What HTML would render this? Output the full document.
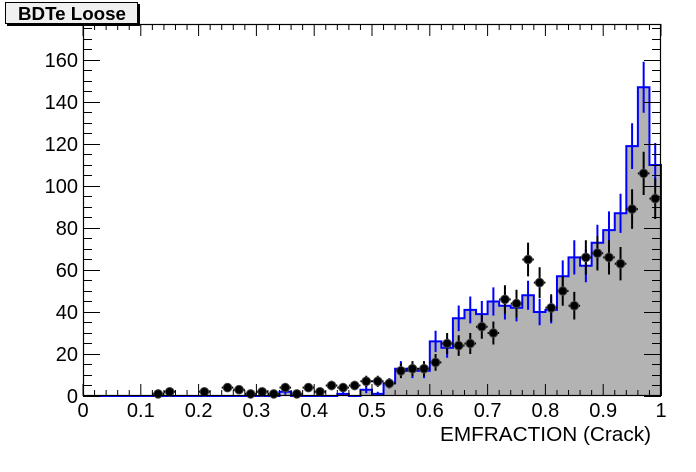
<!DOCTYPE html>
<html><head><meta charset="utf-8"><style>
html,body{margin:0;padding:0;background:#fff;}
svg{display:block;}
text{font-family:"Liberation Sans",Arial,sans-serif;}
</style></head><body>
<svg width="696" height="472" viewBox="0 0 696 472" xmlns="http://www.w3.org/2000/svg">
<rect width="696" height="472" fill="#fff"/>
<!-- MC fill -->
<path d="M83,396 H279.52 V391.8 H291.08 V396 H337.32 V393.9 H348.88 V396 H360.44 V389.7 H372 V393.9 H383.56 V383.4 H395.12 V368.7 H406.68 V370.8 H429.8 V341.4 H441.36 V347.7 H452.92 V318.3 H464.48 V309.9 H476.04 V314.1 H487.6 V301.5 H499.16 V305.7 H510.72 V307.8 H522.28 V295.2 H533.84 V312 H545.4 V309.9 H556.96 V276.3 H568.52 V257.4 H580.08 V265.8 H591.64 V242.7 H603.2 V230.1 H614.76 V213.3 H626.32 V146.1 H637.88 V87.3 H649.44 V165 H661 V396 Z" fill="#b3b3b3"/>
<path d="M83,396 H279.52 V391.8 H291.08 V396 H337.32 V393.9 H348.88 V396 H360.44 V389.7 H372 V393.9 H383.56 V383.4 H395.12 V368.7 H406.68 V370.8 H429.8 V341.4 H441.36 V347.7 H452.92 V318.3 H464.48 V309.9 H476.04 V314.1 H487.6 V301.5 H499.16 V305.7 H510.72 V307.8 H522.28 V295.2 H533.84 V312 H545.4 V309.9 H556.96 V276.3 H568.52 V257.4 H580.08 V265.8 H591.64 V242.7 H603.2 V230.1 H614.76 V213.3 H626.32 V146.1 H637.88 V87.3 H649.44 V165 H661 V396" fill="none" stroke="#0000ff" stroke-width="2"/>
<!-- MC error bars -->
<path d="M285.3,388.8V394.8 M343.1,391.8V396 M366.22,386.1V393.3 M377.78,391.8V396 M389.34,378.3V388.5 M400.9,361.1V376.3 M412.46,363.5V378.1 M424.02,363.5V378.1 M435.58,330.7V352.1 M447.14,337.6V357.8 M458.7,305.5V331.1 M470.26,296.5V323.4 M481.82,301V327.2 M493.38,287.4V315.6 M504.94,291.9V319.5 M516.5,294.2V321.4 M528.06,280.7V309.7 M539.62,298.7V325.3 M551.18,296.5V323.4 M562.74,260.4V292.2 M574.3,240.3V274.5 M585.86,249.3V282.3 M597.42,224.8V260.6 M608.98,211.4V248.8 M620.54,193.7V232.9 M632.1,123.2V169 M643.66,61.8V112.8 M655.22,143V187" stroke="#0000ff" stroke-width="2" fill="none"/>
<!-- Data error bars -->
<path d="M158.14,391.8V396 M169.7,388.8V394.8 M204.38,388.8V394.8 M227.5,383.4V391.8 M239.06,386.1V393.3 M250.62,391.8V396 M262.18,388.8V394.8 M273.74,391.8V396 M285.3,383.4V391.8 M296.86,391.8V396 M308.42,383.4V391.8 M319.98,388.8V394.8 M331.54,380.8V390.2 M343.1,383.4V391.8 M354.66,380.8V390.2 M366.22,375.7V386.9 M377.78,375.7V386.9 M389.34,378.3V388.5 M400.9,363.5V378.1 M412.46,361.1V376.3 M424.02,361.1V376.3 M435.58,354V370.8 M447.14,333V354 M458.7,335.3V355.9 M470.26,333V354 M481.82,314.6V338.8 M493.38,321.5V344.5 M504.94,285.2V313.6 M516.5,289.7V317.5 M528.06,242.6V276.4 M539.62,267.2V298 M551.18,294.2V321.4 M562.74,276.2V305.8 M574.3,291.9V319.5 M585.86,240.3V274.5 M597.42,235.9V270.5 M608.98,240.3V274.5 M620.54,247V280.4 M632.1,189.3V228.9 M643.66,151.8V195 M655.22,178.2V219
M152.36,393.9h11.56 M163.92,391.8h11.56 M198.6,391.8h11.56 M221.72,387.6h11.56 M233.28,389.7h11.56 M244.84,393.9h11.56 M256.4,391.8h11.56 M267.96,393.9h11.56 M279.52,387.6h11.56 M291.08,393.9h11.56 M302.64,387.6h11.56 M314.2,391.8h11.56 M325.76,385.5h11.56 M337.32,387.6h11.56 M348.88,385.5h11.56 M360.44,381.3h11.56 M372,381.3h11.56 M383.56,383.4h11.56 M395.12,370.8h11.56 M406.68,368.7h11.56 M418.24,368.7h11.56 M429.8,362.4h11.56 M441.36,343.5h11.56 M452.92,345.6h11.56 M464.48,343.5h11.56 M476.04,326.7h11.56 M487.6,333h11.56 M499.16,299.4h11.56 M510.72,303.6h11.56 M522.28,259.5h11.56 M533.84,282.6h11.56 M545.4,307.8h11.56 M556.96,291h11.56 M568.52,305.7h11.56 M580.08,257.4h11.56 M591.64,253.2h11.56 M603.2,257.4h11.56 M614.76,263.7h11.56 M626.32,209.1h11.56 M637.88,173.4h11.56 M649.44,198.6h11.56" stroke="#000" stroke-width="2" fill="none"/>
<!-- markers -->
<g fill="#000" stroke="#444" stroke-width="1">
<circle cx="158.14" cy="393.9" r="4.3"/><circle cx="169.7" cy="391.8" r="4.3"/><circle cx="204.38" cy="391.8" r="4.3"/><circle cx="227.5" cy="387.6" r="4.3"/><circle cx="239.06" cy="389.7" r="4.3"/><circle cx="250.62" cy="393.9" r="4.3"/><circle cx="262.18" cy="391.8" r="4.3"/><circle cx="273.74" cy="393.9" r="4.3"/><circle cx="285.3" cy="387.6" r="4.3"/><circle cx="296.86" cy="393.9" r="4.3"/><circle cx="308.42" cy="387.6" r="4.3"/><circle cx="319.98" cy="391.8" r="4.3"/><circle cx="331.54" cy="385.5" r="4.3"/><circle cx="343.1" cy="387.6" r="4.3"/><circle cx="354.66" cy="385.5" r="4.3"/><circle cx="366.22" cy="381.3" r="4.3"/><circle cx="377.78" cy="381.3" r="4.3"/><circle cx="389.34" cy="383.4" r="4.3"/><circle cx="400.9" cy="370.8" r="4.3"/><circle cx="412.46" cy="368.7" r="4.3"/><circle cx="424.02" cy="368.7" r="4.3"/><circle cx="435.58" cy="362.4" r="4.3"/><circle cx="447.14" cy="343.5" r="4.3"/><circle cx="458.7" cy="345.6" r="4.3"/><circle cx="470.26" cy="343.5" r="4.3"/><circle cx="481.82" cy="326.7" r="4.3"/><circle cx="493.38" cy="333" r="4.3"/><circle cx="504.94" cy="299.4" r="4.3"/><circle cx="516.5" cy="303.6" r="4.3"/><circle cx="528.06" cy="259.5" r="4.3"/><circle cx="539.62" cy="282.6" r="4.3"/><circle cx="551.18" cy="307.8" r="4.3"/><circle cx="562.74" cy="291" r="4.3"/><circle cx="574.3" cy="305.7" r="4.3"/><circle cx="585.86" cy="257.4" r="4.3"/><circle cx="597.42" cy="253.2" r="4.3"/><circle cx="608.98" cy="257.4" r="4.3"/><circle cx="620.54" cy="263.7" r="4.3"/><circle cx="632.1" cy="209.1" r="4.3"/><circle cx="643.66" cy="173.4" r="4.3"/><circle cx="655.22" cy="198.6" r="4.3"/>
</g>
<!-- frame -->
<rect x="83.5" y="24.5" width="577" height="371" fill="none" stroke="#000" stroke-width="1.2"/>
<!-- x ticks bottom & top -->
<path stroke="#000" stroke-width="1" fill="none" d="
M83,396V384 M94.56,396V390 M106.12,396V390 M117.68,396V390 M129.24,396V390 M140.8,396V384 M152.36,396V390 M163.92,396V390 M175.48,396V390 M187.04,396V390 M198.6,396V384 M210.16,396V390 M221.72,396V390 M233.28,396V390 M244.84,396V390 M256.4,396V384 M267.96,396V390 M279.52,396V390 M291.08,396V390 M302.64,396V390 M314.2,396V384 M325.76,396V390 M337.32,396V390 M348.88,396V390 M360.44,396V390 M372,396V384 M383.56,396V390 M395.12,396V390 M406.68,396V390 M418.24,396V390 M429.8,396V384 M441.36,396V390 M452.92,396V390 M464.48,396V390 M476.04,396V390 M487.6,396V384 M499.16,396V390 M510.72,396V390 M522.28,396V390 M533.84,396V390 M545.4,396V384 M556.96,396V390 M568.52,396V390 M580.08,396V390 M591.64,396V390 M603.2,396V384 M614.76,396V390 M626.32,396V390 M637.88,396V390 M649.44,396V390 M661,396V384
M83,24V36 M94.56,24V30 M106.12,24V30 M117.68,24V30 M129.24,24V30 M140.8,24V36 M152.36,24V30 M163.92,24V30 M175.48,24V30 M187.04,24V30 M198.6,24V36 M210.16,24V30 M221.72,24V30 M233.28,24V30 M244.84,24V30 M256.4,24V36 M267.96,24V30 M279.52,24V30 M291.08,24V30 M302.64,24V30 M314.2,24V36 M325.76,24V30 M337.32,24V30 M348.88,24V30 M360.44,24V30 M372,24V36 M383.56,24V30 M395.12,24V30 M406.68,24V30 M418.24,24V30 M429.8,24V36 M441.36,24V30 M452.92,24V30 M464.48,24V30 M476.04,24V30 M487.6,24V36 M499.16,24V30 M510.72,24V30 M522.28,24V30 M533.84,24V30 M545.4,24V36 M556.96,24V30 M568.52,24V30 M580.08,24V30 M591.64,24V30 M603.2,24V36 M614.76,24V30 M626.32,24V30 M637.88,24V30 M649.44,24V30 M661,24V36
"/>
<!-- y ticks left & right -->
<path stroke="#000" stroke-width="1" fill="none" d="
M83,396.5H100 M83,385.5H92 M83,375.5H92 M83,364.5H92 M83,354.5H100 M83,343.5H92 M83,333.5H92 M83,322.5H92 M83,312.5H100 M83,301.5H92 M83,291.5H92 M83,280.5H92 M83,270.5H100 M83,259.5H92 M83,249.5H92 M83,238.5H92 M83,228.5H100 M83,217.5H92 M83,207.5H92 M83,196.5H92 M83,186.5H100 M83,175.5H92 M83,165.5H92 M83,154.5H92 M83,144.5H100 M83,133.5H92 M83,123.5H92 M83,112.5H92 M83,102.5H100 M83,91.5H92 M83,81.5H92 M83,70.5H92 M83,60.5H100 M83,49.5H92 M83,39.5H92 M83,28.5H92
M661,396.5H644 M661,385.5H652 M661,375.5H652 M661,364.5H652 M661,354.5H644 M661,343.5H652 M661,333.5H652 M661,322.5H652 M661,312.5H644 M661,301.5H652 M661,291.5H652 M661,280.5H652 M661,270.5H644 M661,259.5H652 M661,249.5H652 M661,238.5H652 M661,228.5H644 M661,217.5H652 M661,207.5H652 M661,196.5H652 M661,186.5H644 M661,175.5H652 M661,165.5H652 M661,154.5H652 M661,144.5H644 M661,133.5H652 M661,123.5H652 M661,112.5H652 M661,102.5H644 M661,91.5H652 M661,81.5H652 M661,70.5H652 M661,60.5H644 M661,49.5H652 M661,39.5H652 M661,28.5H652
"/>
<!-- y labels -->
<g font-size="20" text-anchor="end" fill="#000">
<text x="78" y="403">0</text>
<text x="78" y="361">20</text>
<text x="78" y="319">40</text>
<text x="78" y="277">60</text>
<text x="78" y="235">80</text>
<text x="78" y="193">100</text>
<text x="78" y="151">120</text>
<text x="78" y="109">140</text>
<text x="78" y="67">160</text>
</g>
<!-- x labels -->
<g font-size="20" text-anchor="middle" fill="#000">
<text x="83" y="417">0</text>
<text x="140.8" y="417">0.1</text>
<text x="198.6" y="417">0.2</text>
<text x="256.4" y="417">0.3</text>
<text x="314.2" y="417">0.4</text>
<text x="372" y="417">0.5</text>
<text x="429.8" y="417">0.6</text>
<text x="487.6" y="417">0.7</text>
<text x="545.4" y="417">0.8</text>
<text x="603.2" y="417">0.9</text>
<text x="661" y="417">1</text>
</g>
<text x="440" y="441" font-size="20" textLength="211" lengthAdjust="spacingAndGlyphs" fill="#000">EMFRACTION (Crack)</text>
<!-- title box -->
<rect x="7" y="4" width="133" height="22" fill="#000"/>
<rect x="5.5" y="2.5" width="132" height="21" fill="#f0f0f0" stroke="#000" stroke-width="1"/>
<text x="18" y="20" font-size="18" font-weight="bold" textLength="108" lengthAdjust="spacingAndGlyphs" fill="#000">BDTe Loose</text>
</svg>
</body></html>
